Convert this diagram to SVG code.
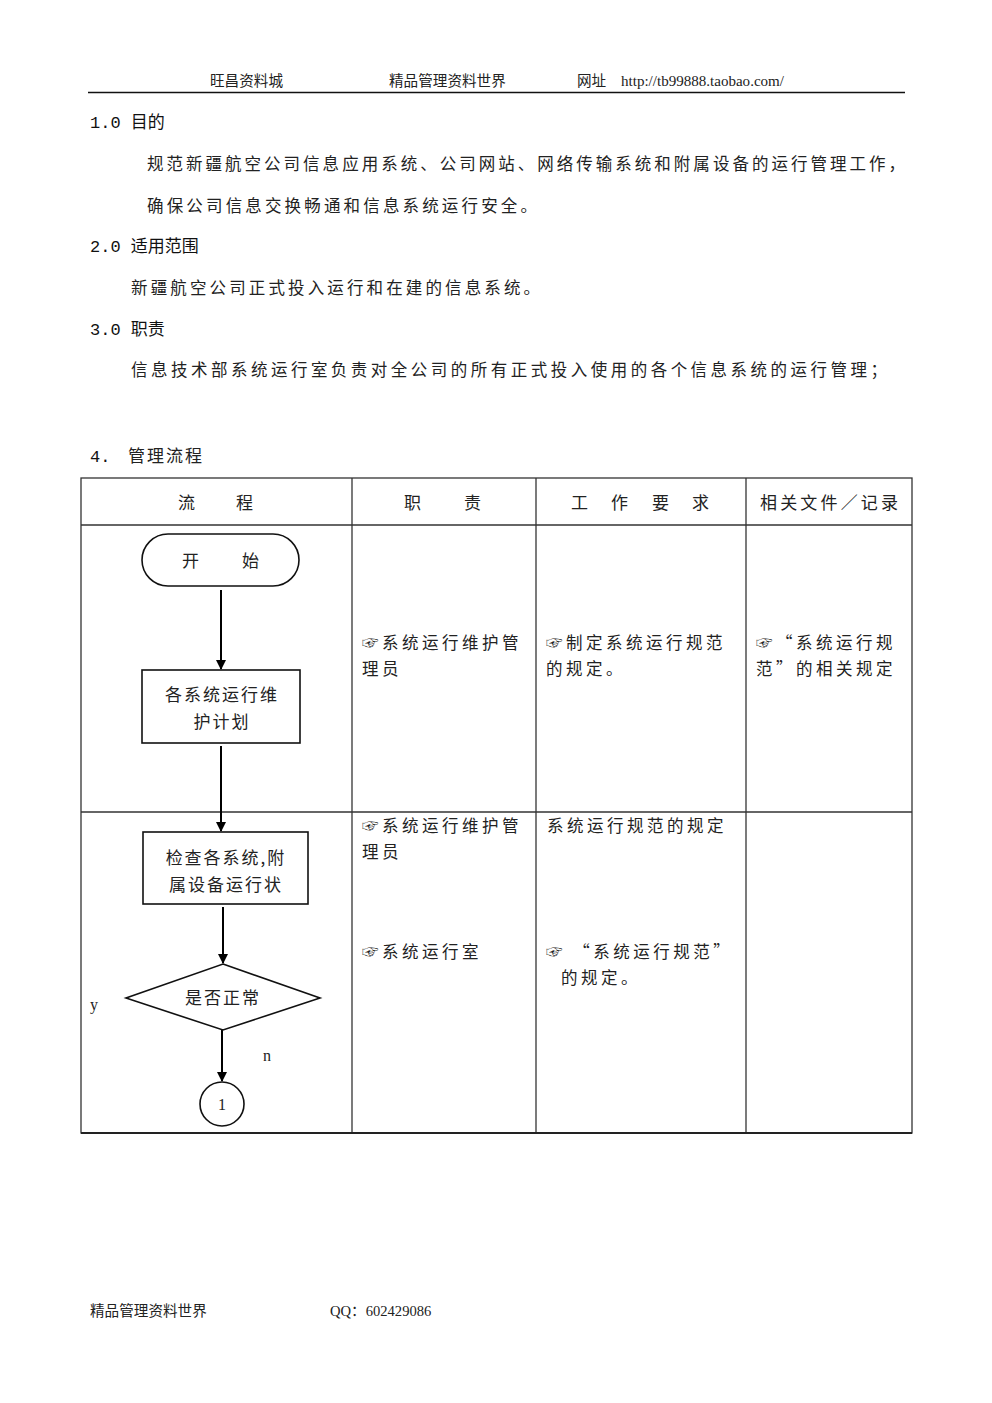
<svg xmlns="http://www.w3.org/2000/svg" width="992" height="1403" viewBox="0 0 992 1403">
<style>
.hd{font-family:"Liberation Serif","Noto Sans CJK SC",serif;font-size:14.6px;fill:#222}
.h{font-family:"Liberation Mono","Noto Sans CJK SC",monospace;font-size:17px;fill:#111}
.b{font-family:"Noto Sans CJK SC","DejaVu Sans",sans-serif;font-size:16.5px;fill:#222}
.t{font-family:"Noto Sans CJK SC","DejaVu Sans",sans-serif;font-size:16.5px;fill:#222;letter-spacing:3.5px}
.th{font-family:"Noto Sans CJK SC",sans-serif;font-size:17px;fill:#222}
.grid{stroke:#333;stroke-width:1.3;fill:none}
.shape{fill:#fff;stroke:#111;stroke-width:1.6}
.lbl{font-family:"Noto Sans CJK SC",sans-serif;font-size:17px;fill:#222;text-anchor:middle;letter-spacing:2px}
.ser{font-family:"Liberation Serif",serif;font-size:16px;fill:#222}
.conn{stroke:#000;stroke-width:2;fill:none;marker-end:url(#ah)}
</style>
<defs>
<marker id="ah" markerWidth="10" markerHeight="10" refX="9" refY="5" orient="auto" markerUnits="userSpaceOnUse">
<path d="M0,0 L10,5 L0,10 z" fill="#000"/>
</marker>
</defs>
<rect width="992" height="1403" fill="#fff"/>
<!-- header -->
<g id="page-header">
<text class="hd" x="210" y="86">旺昌资料城</text>
<text class="hd" x="389" y="86">精品管理资料世界</text>
<text class="hd" x="577" y="86">网址</text>
<text class="hd" x="621" y="86" textLength="163" lengthAdjust="spacingAndGlyphs">http://tb99888.taobao.com/</text>
<line x1="88" y1="92.5" x2="905" y2="92.5" stroke="#111" stroke-width="1.5"/>
</g>
<!-- body -->
<g id="body-text">
<text class="h" x="90" y="128">1.0 目的</text>
<text class="b" x="147" y="170" textLength="758" lengthAdjust="spacing">规范新疆航空公司信息应用系统、公司网站、网络传输系统和附属设备的运行管理工作，</text>
<text class="b" x="147" y="212" textLength="390" lengthAdjust="spacing">确保公司信息交换畅通和信息系统运行安全。</text>
<text class="h" x="90" y="252">2.0 适用范围</text>
<text class="b" x="131" y="294" textLength="409" lengthAdjust="spacing">新疆航空公司正式投入运行和在建的信息系统。</text>
<text class="h" x="90" y="335">3.0 职责</text>
<text class="b" x="131" y="376" textLength="756" lengthAdjust="spacing">信息技术部系统运行室负责对全公司的所有正式投入使用的各个信息系统的运行管理；</text>
<text class="h" x="90" y="462">4.</text>
<text class="th" x="128" y="462" letter-spacing="2">管理流程</text>
</g>
<!-- table -->
<g id="table">
<rect class="grid" x="81" y="478" width="831" height="655"/>
<line class="grid" x1="81" y1="525" x2="912" y2="525"/>
<line class="grid" x1="81" y1="812" x2="912" y2="812"/>
<line class="grid" x1="352" y1="478" x2="352" y2="1133"/>
<line class="grid" x1="536" y1="478" x2="536" y2="1133"/>
<line class="grid" x1="746" y1="478" x2="746" y2="1133"/>
<line x1="81" y1="1133" x2="912" y2="1133" stroke="#222" stroke-width="2"/>
<text class="th" x="178" y="509">流</text>
<text class="th" x="236" y="509">程</text>
<text class="th" x="404" y="509">职</text>
<text class="th" x="464" y="509">责</text>
<text class="th" x="571" y="509">工</text>
<text class="th" x="611" y="509">作</text>
<text class="th" x="652" y="509">要</text>
<text class="th" x="692" y="509">求</text>
<text class="th" x="760" y="509" textLength="138" lengthAdjust="spacing">相关文件／记录</text>
</g>
<g id="table-cells">
<text class="t" x="362" y="649">☞系统运行维护管</text>
<text class="t" x="362" y="675">理员</text>
<text class="t" x="546" y="649">☞制定系统运行规范</text>
<text class="t" x="546" y="675">的规定。</text>
<text class="t" x="756" y="649">☞“系统运行规</text>
<text class="t" x="756" y="675">范”的相关规定</text>
<text class="t" x="362" y="832">☞系统运行维护管</text>
<text class="t" x="362" y="858">理员</text>
<text class="t" x="547" y="832">系统运行规范的规定</text>
<text class="t" x="362" y="958">☞系统运行室</text>
<text class="t" x="546" y="958">☞  “系统运行规范”</text>
<text class="t" x="561" y="984">的规定。</text>
</g>
<!-- connectors -->
<g id="connectors">
<line class="conn" x1="221" y1="590" x2="221" y2="669"/>
<line class="conn" x1="221" y1="746" x2="221" y2="831"/>
<line class="conn" x1="223" y1="907" x2="223" y2="963"/>
<line class="conn" x1="222" y1="1030" x2="222" y2="1081"/>
<text class="ser" x="90" y="1010">y</text>
<text class="ser" x="263" y="1061">n</text>
</g>
<!-- nodes -->
<g id="node-start">
<rect class="shape" x="142" y="534" width="157" height="52" rx="26"/>
<text class="th" x="182" y="567">开</text>
<text class="th" x="242" y="567">始</text>
</g>
<g id="node-plan">
<rect class="shape" x="142" y="670" width="158" height="73"/>
<text class="lbl" x="222" y="701">各系统运行维</text>
<text class="lbl" x="222" y="728">护计划</text>
</g>
<g id="node-check">
<rect class="shape" x="143" y="832" width="165" height="72"/>
<text class="lbl" x="226" y="864">检查各系统,附</text>
<text class="lbl" x="226" y="891">属设备运行状</text>
</g>
<g id="node-decision">
<polygon class="shape" points="223,964 320,998 223,1030 126,998"/>
<text class="lbl" x="223" y="1004">是否正常</text>
</g>
<g id="node-connector1">
<circle class="shape" cx="222" cy="1104" r="22"/>
<text class="ser" x="222" y="1110" text-anchor="middle">1</text>
</g>
<!-- footer -->
<g id="page-footer">
<text class="hd" x="90" y="1316">精品管理资料世界</text>
<text class="hd" x="330" y="1316">QQ：602429086</text>
</g>
</svg>
